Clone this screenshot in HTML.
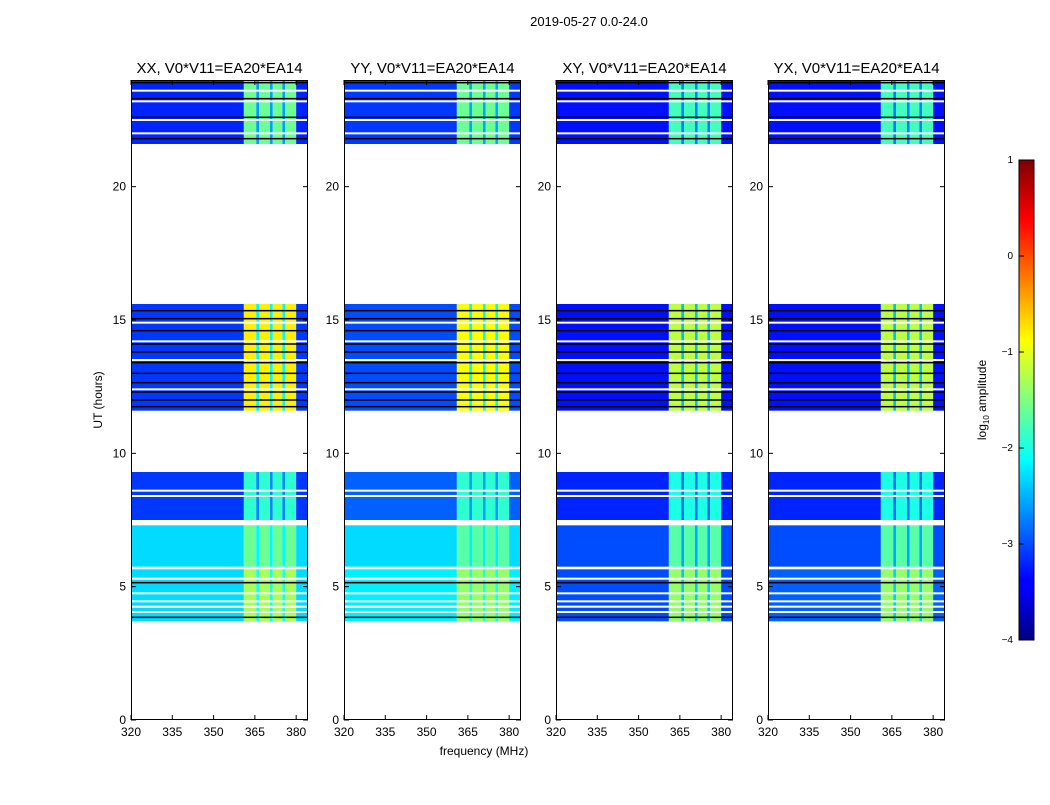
<!DOCTYPE html>
<html><head><meta charset="utf-8">
<style>
body{margin:0;background:#fff;}
svg text{font-family:"Liberation Sans","DejaVu Sans",sans-serif;}
</style></head>
<body>
<svg id="fig" width="1050" height="800" xmlns="http://www.w3.org/2000/svg">
<defs>
<linearGradient id="jet" x1="0" y1="1" x2="0" y2="0">
<stop offset="0" stop-color="#00007f"/><stop offset="0.11" stop-color="#0000ff"/>
<stop offset="0.125" stop-color="#0000ff"/><stop offset="0.375" stop-color="#00ffff"/>
<stop offset="0.625" stop-color="#ffff00"/><stop offset="0.875" stop-color="#ff0000"/>
<stop offset="1" stop-color="#7f0000"/></linearGradient>
</defs>
<text x="589" y="26" font-size="13" text-anchor="middle">2019-05-27 0.0-24.0</text>
<text x="484" y="755" font-size="12" text-anchor="middle">frequency (MHz)</text>
<text transform="translate(102,400) rotate(-90)" font-size="12" text-anchor="middle">UT (hours)</text>
<g id="panels"></g>
<g id="cbar">
<rect x="1019" y="160" width="15" height="480" fill="url(#jet)" stroke="#000" stroke-width="1"/>
</g>
<text transform="translate(986,400) rotate(-90)" font-size="12" text-anchor="middle">log<tspan font-size="8" dy="3">10</tspan><tspan dy="-3"> amplitude</tspan></text>
</svg>
<script>
const panelTitles=["XX, V0*V11=EA20*EA14","YY, V0*V11=EA20*EA14","XY, V0*V11=EA20*EA14","YX, V0*V11=EA20*EA14"];
const blockStart=[3.7,5.75,7.5,11.6,21.6];
const blockEnd=[5.65,7.3,9.3,15.6,24.0];
const lowLevels=[[-2.3,-2.3,-3.1,-3.1,-3.2],[-2.2,-2.3,-2.9,-3.0,-3.1],[-3.0,-3.0,-3.2,-3.3,-3.3],[-2.9,-3.0,-3.2,-3.3,-3.3]];
const highLevels=[[-1.3,-1.6,-1.9,-0.8,-1.6],[-1.4,-1.7,-1.9,-0.9,-1.6],[-1.4,-1.7,-2.0,-1.2,-1.8],[-1.4,-1.7,-2.0,-1.2,-1.8]];
const freqEdges=[320,361,365.5,366.5,370.5,371.5,375,376,380,384.3];
const segType=["low","high","gap","high","gap","high","gap","high","low"];
const whiteLines=[4.05,4.25,4.45,4.75,5.3,8.4,8.6,12.4,13.5,14.2,14.9,22.0,22.5,23.2,23.6];
const blackLines=[3.85,5.15,11.75,12.0,12.3,12.65,13.0,13.4,13.8,14.1,14.6,15.05,15.35,21.8,22.6,23.3,23.9];
const xTicks=[320,335,350,365,380];
const yTicks=[0,5,10,15,20];
const cbTicks=[1,0,-1,-2,-3,-4];

const NS="http://www.w3.org/2000/svg";
const panelX=[131,344,556,768], panelW=177, pTop=80, pBot=720;
const xs=(f,i)=>panelX[i]+(f-320)/(384.3-320)*panelW;
const ys=t=>pBot-(t/24)*(pBot-pTop);
function jet(v){let x=(v+4)/5;x=Math.max(0,Math.min(1,x));
 const c=a=>Math.round(255*Math.max(0,Math.min(1,1.5-Math.abs(4*x-a))));
 return `rgb(${c(3)},${c(2)},${c(1)})`;}
function mk(tag,attrs,parent){const e=document.createElementNS(NS,tag);for(const k in attrs)e.setAttribute(k,attrs[k]);parent.appendChild(e);return e;}
const root=document.getElementById('panels');
panelTitles.forEach((title,i)=>{
 const g=mk('g',{},root);
 
 
 blockStart.forEach((t0,b)=>{
  segType.forEach((st,s)=>{
   const lo=lowLevels[i][b],hi=highLevels[i][b];
   const v=st==="low"?lo:st==="high"?hi:(lo+hi)/2-0.2;
   const r=mk('rect',{x:xs(freqEdges[s],i),y:ys(blockEnd[b]),width:xs(freqEdges[s+1],i)-xs(freqEdges[s],i),height:ys(t0)-ys(blockEnd[b]),fill:jet(v)},g);
   
   
  });
 });
 whiteLines.forEach(t=>{const l=mk('rect',{x:panelX[i],y:ys(t)-1,width:panelW,height:2,fill:'#fff'},g);
  
  });
 blackLines.forEach(t=>{const l=mk('rect',{x:panelX[i],y:ys(t)-0.75,width:panelW,height:1.5,fill:'#000'},g);
  
  });
 const fr=mk('rect',{x:panelX[i]+0.5,y:pTop+0.5,width:panelW-1,height:pBot-pTop-1,fill:'none',stroke:'#000','stroke-width':1},g);
 
 
 const tt=mk('text',{x:panelX[i]+panelW/2,y:73,'font-size':15,'text-anchor':'middle'},g);
 tt.textContent=title;
 
 
 xTicks.forEach(f=>{const x=xs(f,i);
  mk('line',{x1:x,x2:x,y1:pBot,y2:pBot-5,stroke:'#000'},g);
  mk('line',{x1:x,x2:x,y1:pTop,y2:pTop+5,stroke:'#000'},g);
  const tx=mk('text',{x:x,y:pBot+16,'font-size':12,'text-anchor':'middle'},g);
  tx.textContent=f;
  
  });
 yTicks.forEach(t=>{const y=ys(t);
  mk('line',{x1:panelX[i],x2:panelX[i]+5,y1:y,y2:y,stroke:'#000'},g);
  mk('line',{x1:panelX[i]+panelW,x2:panelX[i]+panelW-5,y1:y,y2:y,stroke:'#000'},g);
  const ty=mk('text',{x:panelX[i]-5,y:y+4,'font-size':12,'text-anchor':'end'},g);
  ty.textContent=t;
  
  });
});
const cb=document.getElementById('cbar');
cbTicks.forEach(v=>{const y=160+(1-v)*96;
 mk('line',{x1:1019,x2:1024,y1:y,y2:y,stroke:'#000'},cb);
 const t=mk('text',{x:1013,y:y+3,'font-size':10,'text-anchor':'end'},cb);
 t.textContent=v<0?'\u2212'+(-v):v;
 
 });
</script>
</body></html>
